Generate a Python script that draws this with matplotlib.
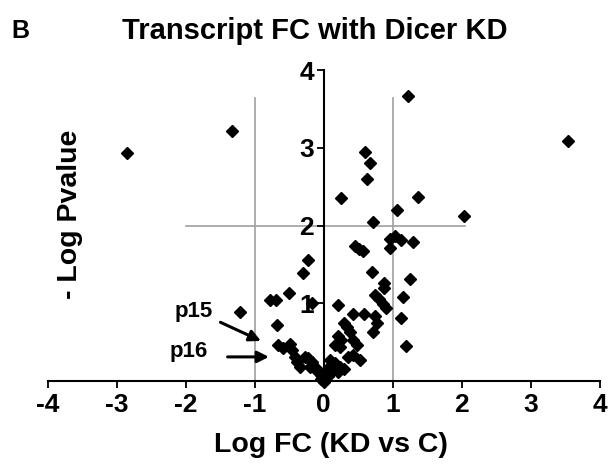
import matplotlib
matplotlib.use("Agg")
import matplotlib.pyplot as plt

plt.rcParams['font.family'] = ['Liberation Sans', 'DejaVu Sans']

# Data (log fold change, -log p-value)
log_fc = [
    -2.85, -1.33, 3.54, 1.22, 2.04, 1.37, 1.06, 0.72, 0.60, 0.68, 0.63, 0.26,
    0.96, 1.04, 1.13, 0.97, 1.30, 0.46, 0.52, 0.57, 0.71, 0.87, 0.88, 1.26,
    1.15, 1.12, 1.20, 0.75, 0.81, 0.86, 0.91, 0.21, 0.43, 0.58, 0.75, 0.77,
    0.72, 0.29, 0.34, 0.38, 0.21, 0.26, 0.17, 0.24, 0.43, 0.48, 0.36, 0.43,
    0.53, 0.09, 0.17, 0.24, 0.05, 0.14, 0.00, 0.21, 0.07, -0.03, 0.29, 0.00,
    -0.50, -0.78, -0.69, -0.17, -1.21, -0.67, -0.23, -0.30, -0.66, -0.59,
    -0.49, -0.46, -0.41, -0.39, -0.34, -0.22, -0.17, -0.12, -0.08, -0.03,
    0.02, 0.07, -0.20, -0.27,
]
neg_log_p = [
    2.93, 3.22, 3.09, 3.66, 2.12, 2.37, 2.20, 2.04, 2.94, 2.81, 2.60, 2.35,
    1.83, 1.86, 1.81, 1.71, 1.79, 1.73, 1.70, 1.67, 1.40, 1.26, 1.19, 1.31,
    1.08, 0.81, 0.45, 1.11, 1.05, 0.99, 0.94, 0.98, 0.86, 0.86, 0.83, 0.75,
    0.63, 0.74, 0.69, 0.63, 0.58, 0.53, 0.46, 0.44, 0.53, 0.46, 0.31, 0.33,
    0.27, 0.27, 0.23, 0.18, 0.16, 0.14, 0.10, 0.12, 0.06, 0.03, 0.16, -0.01,
    1.13, 1.04, 1.04, 1.00, 0.89, 0.72, 1.55, 1.39, 0.46, 0.42,
    0.48, 0.40, 0.31, 0.25, 0.18, 0.29, 0.25, 0.18, 0.12, 0.08,
    0.01, 0.06, 0.18, 0.31,
]
x_ticks = [-4, -3, -2, -1, 0, 1, 2, 3, 4]
y_ticks = [1, 2, 3, 4]
fc_cut = [-1, 1]
p_cut = 2

fig = plt.figure(figsize=(6.08, 4.74), dpi=100)
ax = fig.add_axes([47.5 / 608, 1 - 381 / 474, 552 / 608, 311 / 474])
ax.set_xlim(-4, 4)
ax.set_ylim(0, 4)

gray = '#a0a0a0'
for xc in fc_cut:
    ax.plot([xc, xc], [0, 3.64], color=gray, lw=1.2, zorder=1)
ax.plot([-2, 2.05], [p_cut, p_cut], color=gray, lw=1.2, zorder=1)

ax.plot(log_fc, neg_log_p, linestyle='none', marker='D', ms=5.8, color='black',
        zorder=3, clip_on=False)

for s in ['top', 'right']:
    ax.spines[s].set_visible(False)
ax.spines['left'].set_position(('data', 0))
ax.spines['left'].set_linewidth(1.5)
ax.spines['bottom'].set_linewidth(1.5)

ax.set_xticks(x_ticks)
ax.set_xticklabels([str(v) for v in x_ticks])
ax.set_yticks(y_ticks)
ax.set_yticklabels([str(v) for v in y_ticks])
ax.tick_params(axis='x', direction='out', length=5, width=1.3, pad=4,
               labelsize=19)
ax.tick_params(axis='y', direction='out', length=5, width=1.3, pad=2,
               labelsize=19)
for lab in ax.get_xticklabels() + ax.get_yticklabels():
    lab.set_fontweight('bold')

ax.text(-3.67, 2.15, '- Log Pvalue', rotation=90, ha='center', va='center',
        fontsize=20.5, fontweight='bold')
fig.text(331 / 608, 1 - 445 / 474, 'Log FC (KD vs C)', ha='center',
         va='center', fontsize=20.5, fontweight='bold')
fig.text(315 / 608, 1 - 31 / 474, 'Transcript FC with Dicer KD', ha='center',
         va='center', fontsize=21, fontweight='bold')
fig.text(20 / 608, 1 - 31 / 474, 'B', ha='center', va='center',
         fontsize=18, fontweight='bold')

ax.annotate('', xy=(-0.87, 0.50), xytext=(-1.53, 0.77),
            arrowprops=dict(arrowstyle='-|>', color='black', lw=2.2,
                            mutation_scale=17))
ax.annotate('', xy=(-0.75, 0.31), xytext=(-1.43, 0.31),
            arrowprops=dict(arrowstyle='-|>', color='black', lw=2.2,
                            mutation_scale=17))
ax.text(-1.60, 0.89, 'p15', ha='right', va='center', fontsize=16,
        fontweight='bold')
ax.text(-1.67, 0.38, 'p16', ha='right', va='center', fontsize=16,
        fontweight='bold')

fig.savefig('out.png', dpi=100)
